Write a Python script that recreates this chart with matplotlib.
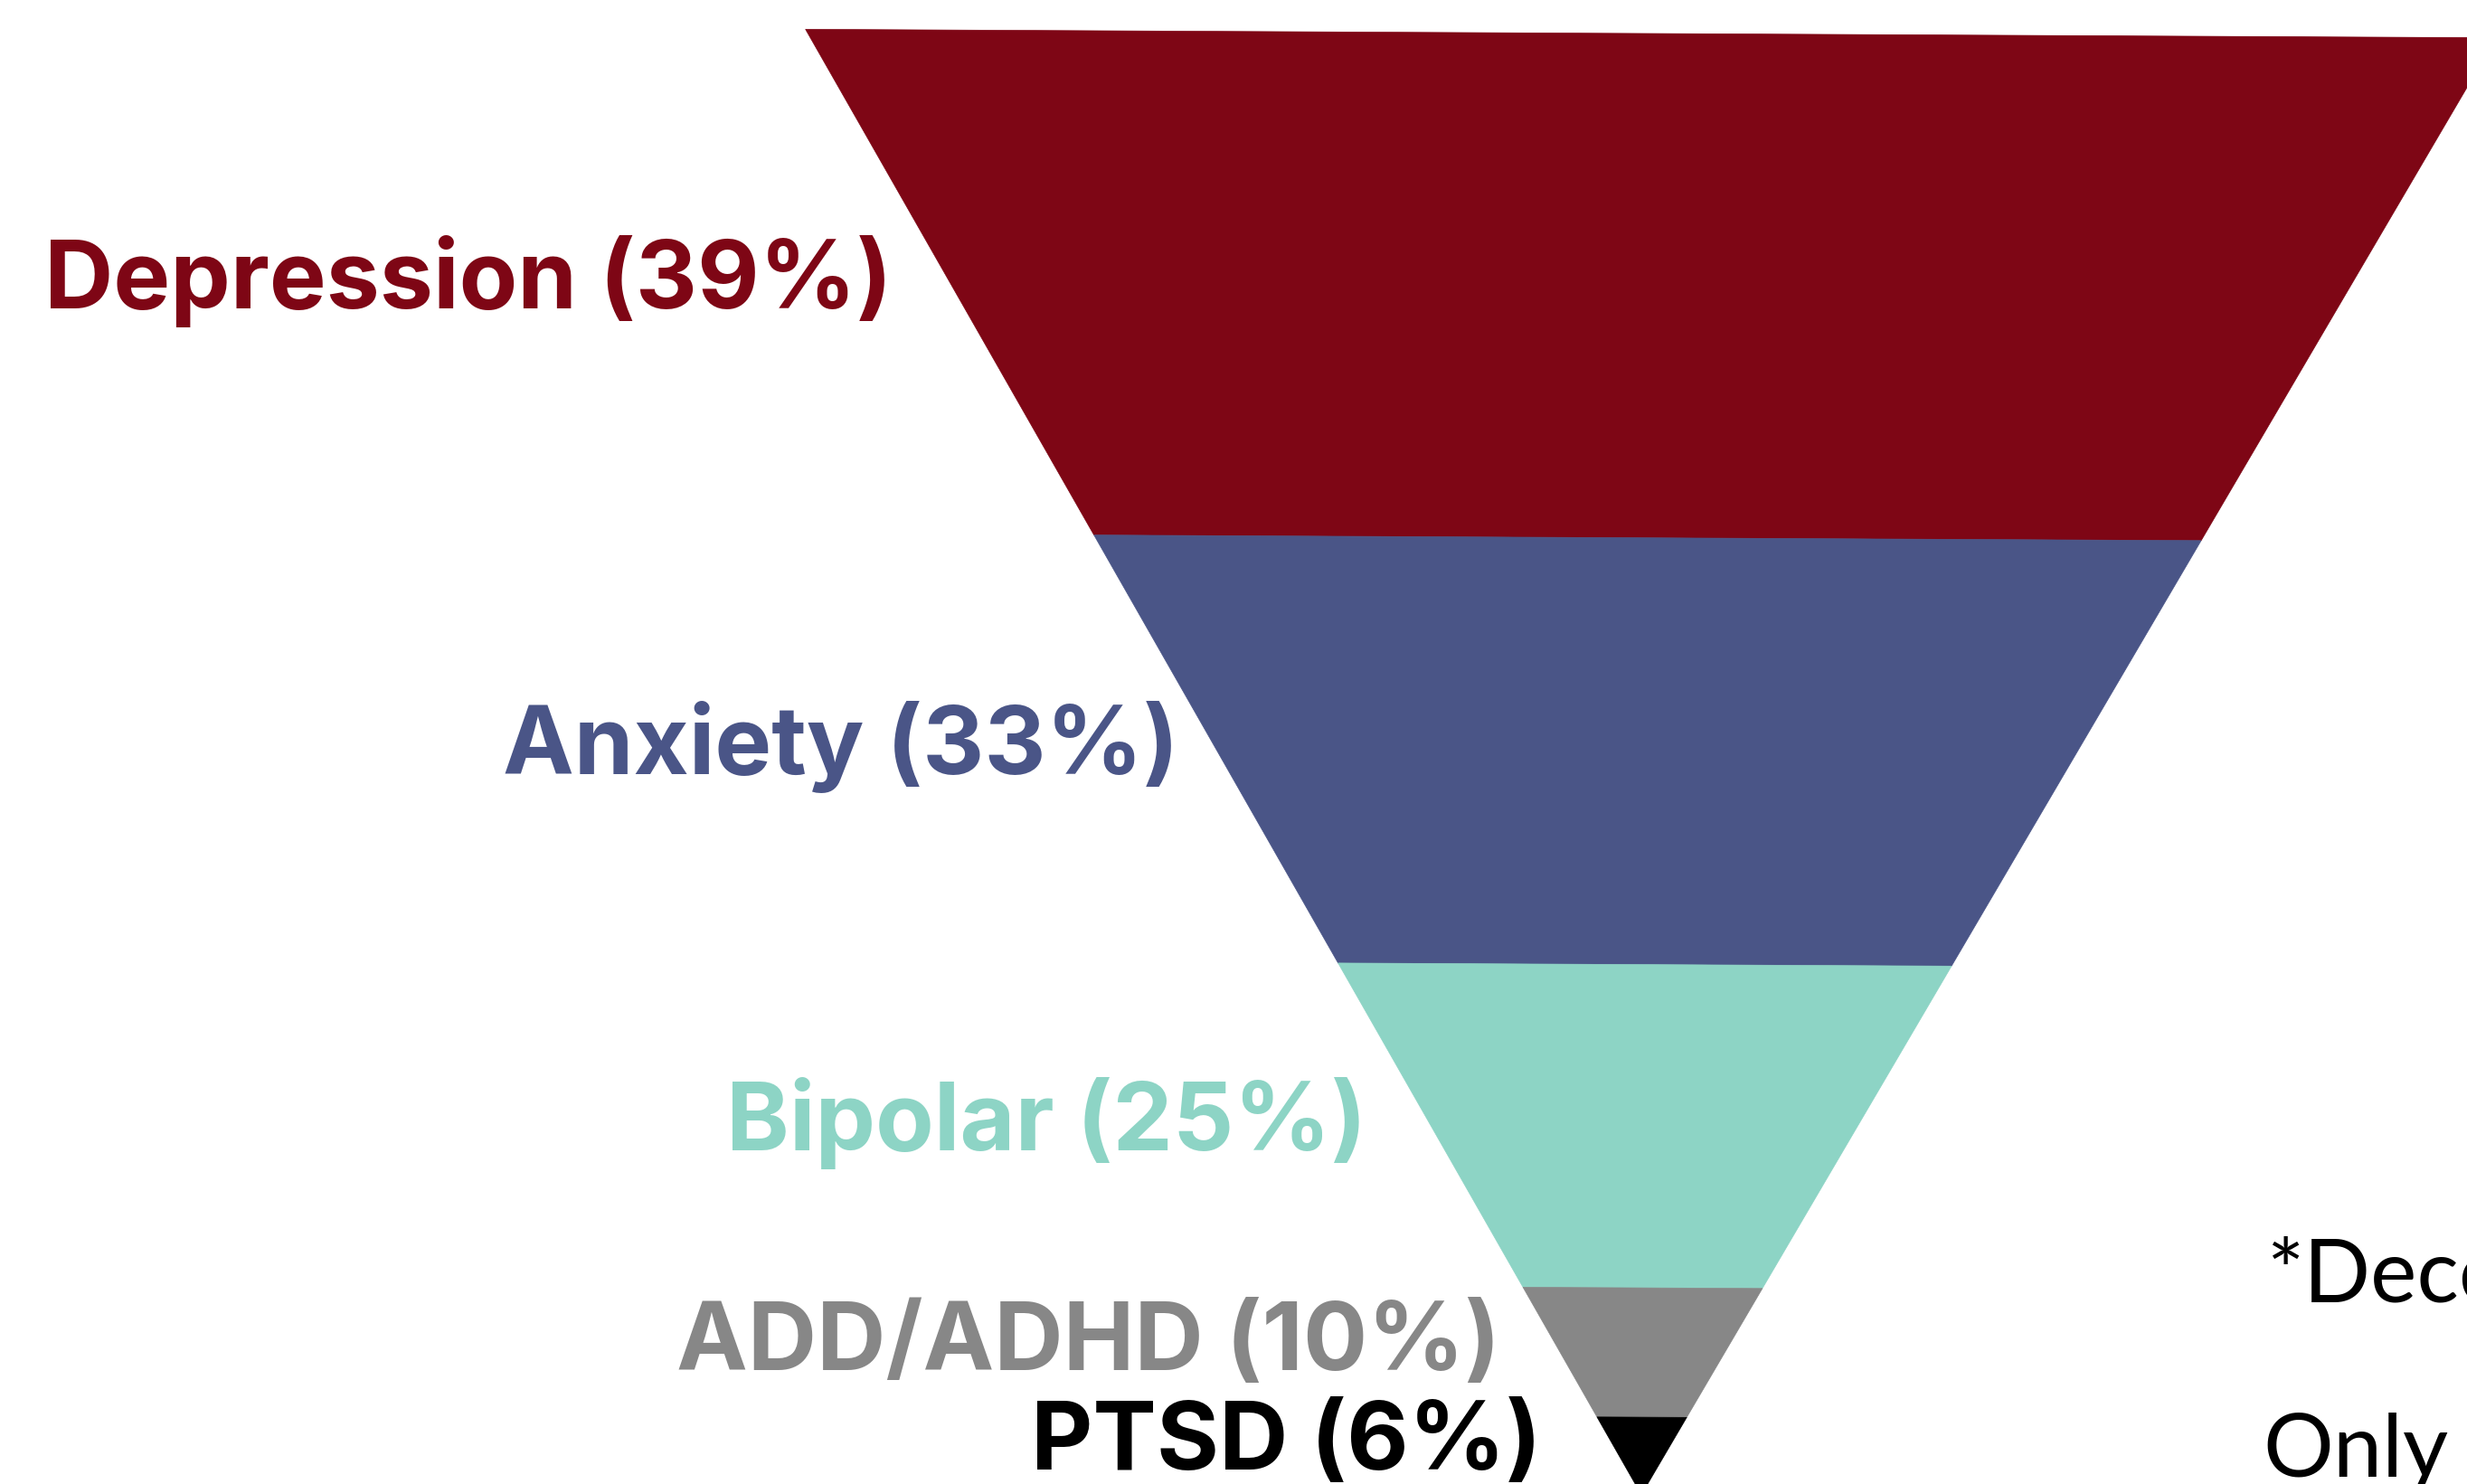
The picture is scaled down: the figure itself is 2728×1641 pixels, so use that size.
import numpy as np
import matplotlib.pyplot as plt
from matplotlib.patches import Polygon

# funnel data (percent of cases)
labels = ['Depression', 'Anxiety', 'Bipolar', 'ADD/ADHD', 'PTSD']
shares = [39, 33, 25, 10, 6]
colors = ['#7E0615', '#4A5587', '#8DD4C5', '#878787', '#000000']

# footnote, cut off by the right edge in the original
note_lines = ['*Decedents', 'Only']

W, H = 2728, 1641
S = 14.3            # pixels per percentage point
TOP = 37            # pixel row of the funnel top
APEX_X = 1815       # pixel column of the apex
SLOPE_L, SLOPE_R = 0.572, 0.585   # half width per unit of depth
TILT = 0.005        # the whole funnel is a hair rotated

label_gap = [64, 41, 71, 66, 86]    # px between label and funnel edge
label_dy = [0, 0, 2, -6, -10]       # px nudge of the baseline

fig = plt.figure(figsize=(W / 100, H / 100), dpi=100)
ax = fig.add_axes([0, 0, 1, 1])
ax.set_xlim(-APEX_X / S, (W - APEX_X) / S)
ax.set_ylim((H - TOP) / S, -TOP / S)
ax.axis('off')

total = sum(shares)
edges = np.concatenate([[0], np.cumsum(shares)])


def pt(x, y):
    return (x, y + TILT * x)


for i in range(len(shares)):
    y0, y1 = edges[i], edges[i + 1]
    d0, d1 = total - y0, total - y1
    poly = [pt(-SLOPE_L * d0, y0), pt(SLOPE_R * d0, y0),
            pt(SLOPE_R * d1, y1), pt(-SLOPE_L * d1, y1)]
    ax.add_patch(Polygon(poly, closed=True, fc=colors[i], ec=colors[i], lw=0.5))

    yc = (y0 + y1) / 2
    xe = -SLOPE_L * (total - yc)
    ax.text(xe - label_gap[i] / S, yc + (25 + label_dy[i]) / S,
            '%s (%d%%)' % (labels[i], shares[i]),
            ha='right', va='baseline', color=colors[i],
            fontsize=76, fontweight='bold', family=['Inter', 'DejaVu Sans'])

fig.text(2506 / W, 1 - 1440 / H, note_lines[0], ha='left', va='baseline',
         fontsize=70, family=['Lato', 'DejaVu Sans'], color='black')
fig.text(2502 / W, 1 - 1633 / H, note_lines[1], ha='left', va='baseline',
         fontsize=70, family=['Lato', 'DejaVu Sans'], color='black')

fig.savefig('out.png', dpi=100, facecolor='white')
